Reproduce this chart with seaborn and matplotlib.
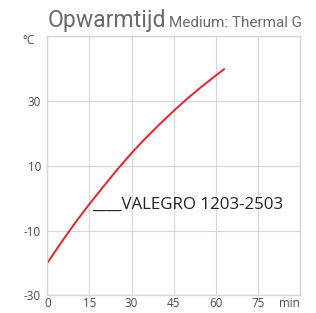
import pandas as pd
import matplotlib.pyplot as plt
import seaborn as sns

# values
minutes = [0, 5, 10, 15, 20, 25, 30, 35, 40, 45, 50, 55, 60, 63]
temp_c = [-20, -13.6, -7.5, -1.8, 3.6, 8.9, 13.9, 18.5, 22.8, 26.9, 30.8, 34.4, 37.8, 39.8]
x_ticks = [0, 15, 30, 45, 60, 75]
y_ticks = [-30, -10, 10, 30]
series_name = '____VALEGRO 1203-2503'

grid_col = '#d3d8da'
sea_style = sns.axes_style('whitegrid')
sea_style['grid.color'] = grid_col
sea_style['axes.edgecolor'] = grid_col
sea_style['xtick.bottom'] = False
sea_style['ytick.left'] = False
sns.set_theme(style=sea_style)
plt.rcParams['font.family'] = ['Open Sans', 'DejaVu Sans']

df = pd.DataFrame({'min': minutes, 'temp': temp_c})

fig = plt.figure(figsize=(3.16, 3.13), dpi=100)
ax = fig.add_axes([0.1497, 0.056, 0.7997, 0.829])
sns.lineplot(data=df, x='min', y='temp', color='#e3232b', linewidth=1.4, ax=ax)

ax.set_xlim(0, 90)
ax.set_ylim(-30, 50)
ax.set_xticks(x_ticks + [90])
ax.set_yticks(y_ticks + [50])
ax.set_xticklabels([str(t) for t in x_ticks] + [''])
ax.set_yticklabels([str(t) for t in y_ticks] + [''])
ax.tick_params(axis='both', length=0, labelsize=8.4, colors='#4a4a4a')
ax.tick_params(axis='x', pad=1.2)
ax.tick_params(axis='y', pad=4.5)
ax.set_xlabel('')
ax.set_ylabel('')
for s in ax.spines.values():
    s.set_linewidth(1.0)
ax.grid(True, linewidth=0.9)

ax.annotate('min', xy=(1, 0), xycoords='axes fraction', xytext=(0, -1.2),
            textcoords='offset points', ha='right', va='top',
            fontsize=8.4, color='#4a4a4a')
ax.annotate('°C', xy=(0, 1), xycoords='axes fraction', xytext=(-9, -3.5),
            textcoords='offset points', ha='right', va='center',
            fontsize=8.4, color='#4a4a4a')

ax.text(16, -3.2, series_name, fontsize=12.2, color='#222222', ha='left', va='baseline')

fig.text(0.152, 0.915, 'Opwarmtijd', fontsize=16.6, color='#6a6a6a', family=['Roboto', 'DejaVu Sans'])
fig.text(0.536, 0.915, 'Medium: Thermal G', fontsize=11, color='#6a6a6a', family=['Roboto', 'DejaVu Sans'])

fig.savefig('out.png', dpi=100)
